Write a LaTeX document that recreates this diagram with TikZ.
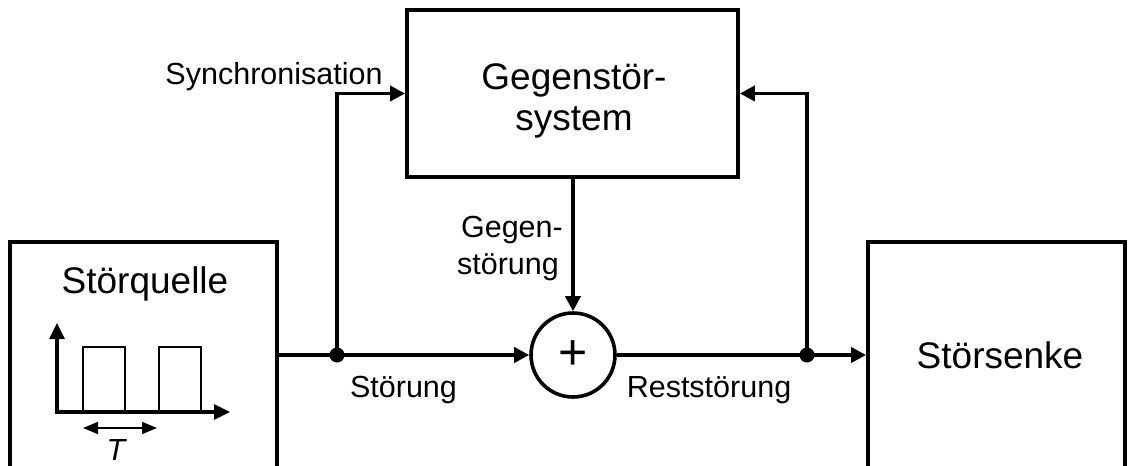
\documentclass[tikz,border=0pt]{standalone}
\usepackage{fontspec}
\setmainfont{Liberation Sans}
\usetikzlibrary{arrows.meta}
\newcommand{\bigtxt}{\fontsize{37}{42}\selectfont}
\newcommand{\smalltxt}{\fontsize{30.5}{37}\selectfont}
\begin{document}
\begin{tikzpicture}[x=1pt,y=-1pt,
  boxnode/.style={draw, line width=3.8pt, inner sep=0pt, minimum width=#1},
  wire/.style={line width=3.8pt},
  arr/.style={wire, -{Triangle[length=15pt,width=15pt]}},
  dotnode/.style={circle, fill, inner sep=0pt, minimum size=15pt},
  bigl/.style={inner sep=0pt, anchor=base, font=\bigtxt},
  smalll/.style={inner sep=0pt, anchor=base, font=\smalltxt},
  thinarr/.style={line width=1.6pt, {Triangle[length=15pt,width=12pt]}-{Triangle[length=15pt,width=12pt]}},
  axis/.style={line width=3.2pt, -{Triangle[length=16pt,width=15pt]}},
  pulse/.style={line width=2pt}
]
\useasboundingbox (0,0) rectangle (1128,466);
\clip (0,0) rectangle (1128,466);
\fill[white] (0,0) rectangle (1128,466);

% blocks
\node[boxnode=331pt, minimum height=167pt] (gs) at (572.5,93.5) {};
\node[boxnode=267pt, minimum height=258pt] (q) at (143.5,371) {};
\node[boxnode=257pt, minimum height=228pt] (s) at (996.5,356) {};
\node[draw, circle, line width=3.6pt, minimum size=84pt, inner sep=0pt,
      font=\fontsize{50}{50}\selectfont] (sum) at (573,355) {+};

% junctions
\node[dotnode] (d1) at (337,355) {};
\node[dotnode] (d2) at (807,355) {};

% block texts
\node[bigl] (gs1) at (574,89) {Gegenstör-};
\node[bigl] (gs2) at (574,130) {system};
\node[bigl] (qt) at (145,293) {Störquelle};
\node[bigl] (st) at (1000,368) {Störsenke};

% connectors
\draw[wire] (q.east |- d1) -- (d1.center);
\draw[arr] (d1.center) -- (sum.west);
\draw[arr] (d1.center) |- (gs.west);
\draw[arr] (gs.south -| sum.north) -- (sum.north);
\draw[wire] (sum.east) -- (d2.center);
\draw[arr] (d2.center) -- (d2 -| s.west);
\draw[arr] (d2.center) |- (gs.east);

% connector labels
\node[smalll] (lsync) at (274,84) {Synchronisation};
\node[smalll, anchor=base east] (lg1) at (563,237) {Gegen-};
\node[smalll, anchor=base east] (lg2) at (559,274) {störung};
\node[smalll] (lst) at (403.5,397) {Störung};
\node[smalll] (lrs) at (709,397) {Reststörung};

% pulse plot inside Störquelle
\draw[pulse] (83,412) -- (83,347) -- (125,347) -- (125,412);
\draw[pulse] (159,412) -- (159,347) -- (201,347) -- (201,412);
\draw[axis] (57,413.6) -- (57,323);
\draw[axis] (55.4,412) -- (230,412);
\draw[thinarr] (83,428) -- (157,428);
\node[smalll, font=\smalltxt\itshape] (tl) at (116,460) {T};
\end{tikzpicture}
\end{document}
